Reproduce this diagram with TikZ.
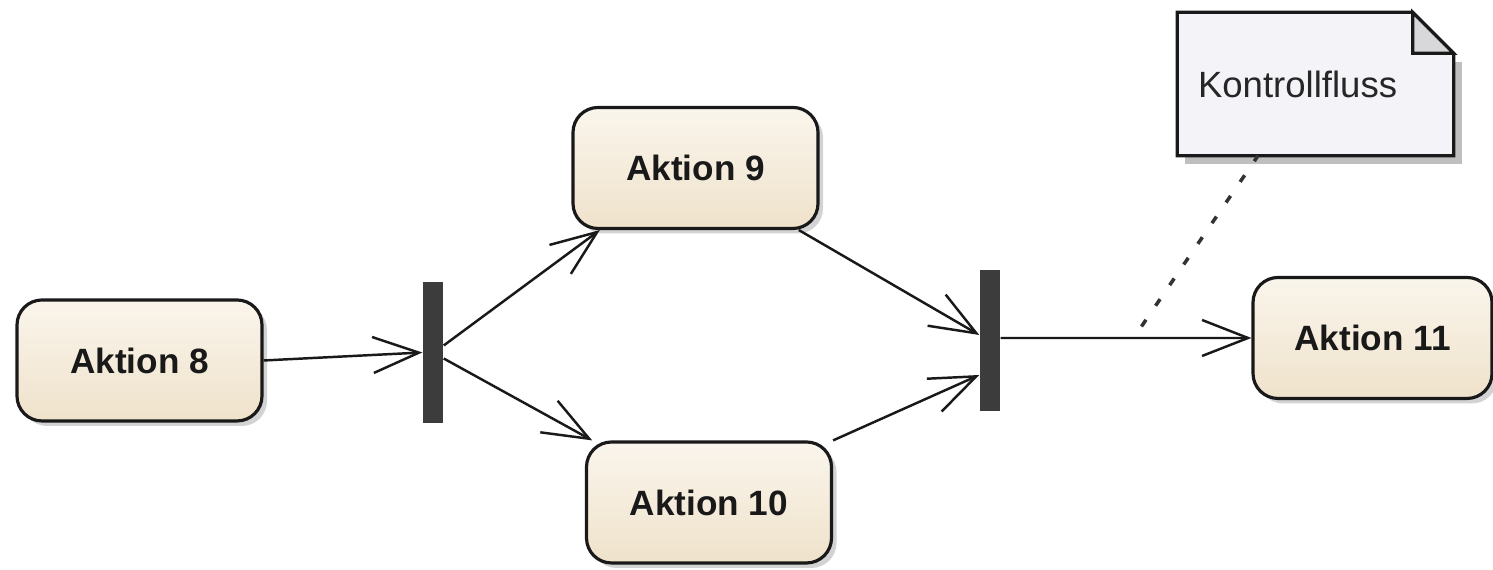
\documentclass[tikz,border=0pt]{standalone}
\usepackage{fontspec}
\setmainfont{Liberation Sans}
\usepackage{xcolor}
\usepackage{tikz}
\usetikzlibrary{arrows.meta, shadows, backgrounds}

\definecolor{crema}{HTML}{FAF5EC}
\definecolor{beige}{HTML}{EFE2CB}
\definecolor{grigionota}{HTML}{F3F3F8}
\definecolor{piega}{HTML}{D8D8DA}
\definecolor{barragrigia}{HTML}{3C3C3C}

\begin{document}
\begin{tikzpicture}[
    azione/.style={rectangle, rounded corners=0.25cm, draw=black!90, line width=0.9pt,
        top color=crema, bottom color=beige, minimum width=2.45cm, minimum height=1.21cm,
        text=black!90, font=\bfseries,
        drop shadow={shadow xshift=0.5mm, shadow yshift=-0.5mm, opacity=0.35}},
    barra/.style={rectangle, fill=barragrigia, minimum width=0.2cm, minimum height=1.41cm, inner sep=0pt},
    flusso/.style={line width=0.7pt, black!90, -{Straight Barb[length=4.6mm, width=3.6mm]}},
    nota/.style={rectangle, minimum height=1.42cm, text width=2.35cm, inner xsep=0.2cm,
        align=left, text=black!85, font=\fontsize{10.4}{12}\selectfont},
    collegamento/.style={line width=1pt, black!80, dash pattern=on 0.08cm off 0.17cm}]

    \useasboundingbox (0,0) rectangle (14.93,5.70);

    % Azioni
    \node[azione] (a8) at (1.395,2.095) {Aktion 8};
    \node[azione] (a9) at (6.955,4.02) {Aktion 9};
    \node[azione] (a10) at (7.09,0.675) {Aktion 10};
    \node[azione, minimum width=2.39cm] (a11) at (13.725,2.32) {Aktion 11};

    % Fork e join
    \node[barra] (b1) at (4.33,2.175) {};
    \node[barra] (b2) at (9.90,2.29) {};

    % Flussi
    \draw[flusso] (a8.east) -- (b1.west);
    \draw[flusso] ([yshift=0.07cm]b1.east) -- (a9.213);
    \draw[flusso] ([yshift=-0.06cm]b1.east) -- (a10.152);
    \draw[flusso] (a9.-31) -- ([yshift=0.06cm]b2.west);
    \draw[flusso] (a10.north east) -- ([yshift=-0.34cm]b2.west);
    \draw[flusso] ([yshift=0.03cm]b2.east) -- coordinate[pos=0.53] (k) (a11.west);

    % Nota
    \node[nota] (nota) at (13.155,4.86) {Kontrollfluss};
    \begin{scope}[on background layer]
        \fill[black!25] ([shift={(0.08,-0.08)}]nota.south west) rectangle ([shift={(0.08,-0.5)}]nota.north east);
        \filldraw[fill=grigionota, draw=black!90, line width=0.9pt]
            (nota.south west) -- (nota.north west) -- ([xshift=-0.41cm]nota.north east)
            -- ([yshift=-0.41cm]nota.north east) -- (nota.south east) -- cycle;
    \end{scope}
    \filldraw[fill=piega, draw=black!90, line width=0.9pt]
        ([xshift=-0.41cm]nota.north east) |- ([yshift=-0.41cm]nota.north east) -- cycle;

    \draw[collegamento, shorten <=0.14cm] (k) -- ([xshift=-0.575cm]nota.south);
\end{tikzpicture}
\end{document}
